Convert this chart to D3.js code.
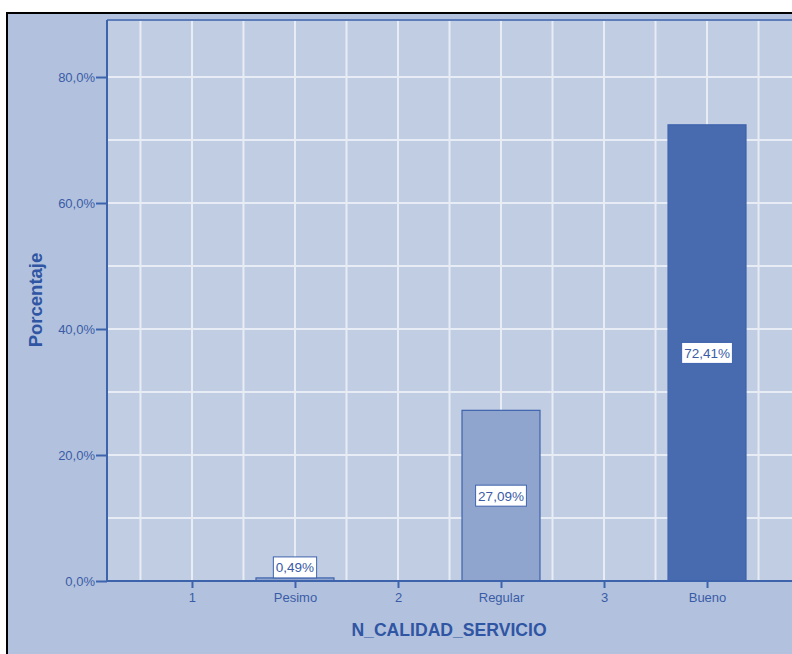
<!DOCTYPE html>
<html>
<head>
<meta charset="utf-8">
<script src="https://cdn.jsdelivr.net/npm/d3@7"></script>
<style>
html,body{margin:0;padding:0;background:#fff;}
svg{display:block;}
</style>
</head>
<body>
<svg id="chart" width="792" height="654"></svg>
<script>
const categories = ["1", "Pesimo", "2", "Regular", "3", "Bueno"];
const values = [0, 0.49, 0, 27.09, 0, 72.41];
const labels = ["", "0,49%", "", "27,09%", "", "72,41%"];
const yTicks = [0, 20, 40, 60, 80];
const yTickLabels = ["0,0%", "20,0%", "40,0%", "60,0%", "80,0%"];
const barColors = [null, "#8fa5cd", null, "#8fa5cd", null, "#486aae"];

(function () {
const svg = d3.select("#chart");
const W = 792, H = 654;
const pLeft = 107, pRight = 792, pTop = 20, pBottom = 581;
const FONT = "Liberation Sans, Arial, sans-serif";

// outer frame
svg.append("rect").attr("x", 7).attr("y", 13).attr("width", W).attr("height", H)
  .attr("fill", "#b2c2de").attr("stroke", "#000").attr("stroke-width", 2);

const x = d3.scaleLinear().domain([-0.825, 5.825]).range([pLeft, pRight]);
const y = d3.scaleLinear().domain([0, 89.05]).range([pBottom, pTop]);

// plot area
svg.append("rect").attr("x", pLeft).attr("y", pTop).attr("width", pRight - pLeft).attr("height", pBottom - pTop)
  .attr("fill", "#c1cde3");

// grid
const vgrid = d3.range(-0.5, 6, 0.5);
svg.append("g").selectAll("line").data(vgrid).join("line")
  .attr("x1", d => x(d)).attr("x2", d => x(d))
  .attr("y1", pTop).attr("y2", pBottom)
  .attr("stroke", "#e8edf5").attr("stroke-width", 2);
const hgrid = d3.range(10, 89, 10);
svg.append("g").selectAll("line").data(hgrid).join("line")
  .attr("x1", pLeft).attr("x2", pRight)
  .attr("y1", d => y(d)).attr("y2", d => y(d))
  .attr("stroke", "#e8edf5").attr("stroke-width", 2);

// top border
svg.append("line").attr("x1", pLeft).attr("x2", pRight).attr("y1", pTop).attr("y2", pTop)
  .attr("stroke", "#5d7dba").attr("stroke-width", 2);

// bars
const step = x(1) - x(0);
const bw = step * 0.757;
const data = categories.map((c, i) => ({c, i, v: values[i], label: labels[i], color: barColors[i]}))
  .filter(d => d.v > 0);
svg.append("g").selectAll("rect").data(data).join("rect")
  .attr("x", d => x(d.i) - bw / 2).attr("width", bw)
  .attr("y", d => y(d.v)).attr("height", d => pBottom - y(d.v))
  .attr("fill", d => d.color).attr("stroke", "#3e63ad").attr("stroke-width", 1.2);

// axes
const xAxis = d3.axisBottom(x).tickValues(d3.range(categories.length))
  .tickFormat(i => categories[i]).tickSize(7).tickPadding(5);
const gx = svg.append("g").attr("transform", `translate(0,${pBottom})`).call(xAxis);
gx.select(".domain").remove();
gx.append("line").attr("x1", pLeft).attr("x2", pRight).attr("y1", 0).attr("y2", 0)
  .attr("stroke", "#3e63ad").attr("stroke-width", 2);
gx.selectAll(".tick line").attr("stroke", "#3e63ad").attr("stroke-width", 2);
gx.selectAll(".tick text").attr("fill", "#3a5ca6")
  .style("font-family", FONT).style("font-size", "13px");

const yAxis = d3.axisLeft(y).tickValues(yTicks).tickFormat((d, i) => yTickLabels[i])
  .tickSize(11).tickPadding(1);
const gy = svg.append("g").attr("transform", `translate(${pLeft},0)`).call(yAxis);
gy.select(".domain").remove();
gy.append("line").attr("x1", 0).attr("x2", 0).attr("y1", pTop).attr("y2", pBottom)
  .attr("stroke", "#3e63ad").attr("stroke-width", 2);
gy.selectAll(".tick line").attr("stroke", "#3e63ad").attr("stroke-width", 2);
gy.selectAll(".tick text").attr("fill", "#3a5ca6")
  .style("font-family", FONT).style("font-size", "13px");

// value labels
const lab = svg.append("g").selectAll("g").data(data).join("g")
  .attr("transform", d => {
    const cy = d.v < 3 ? y(d.v) - 10.5 : y(d.v / 2);
    return `translate(${x(d.i)},${cy})`;
  });
lab.append("text").text(d => d.label)
  .attr("text-anchor", "middle").attr("dy", "0.36em")
  .attr("fill", "#3a5ca6")
  .style("font-family", FONT).style("font-size", "13.5px")
  .each(function() {
    const b = this.getBBox();
    d3.select(this.parentNode).insert("rect", "text")
      .attr("x", b.x - 2.5).attr("y", -10.5).attr("width", b.width + 5).attr("height", 21)
      .attr("fill", "#fff").attr("stroke", "#3e63ad").attr("stroke-width", 1);
  });

// axis titles
svg.append("text").text("N_CALIDAD_SERVICIO")
  .attr("x", 449).attr("y", 636).attr("text-anchor", "middle")
  .attr("fill", "#2f55a3").style("font-weight", "bold")
  .style("font-family", FONT).style("font-size", "17.6px");
svg.append("text").text("Porcentaje")
  .attr("transform", "translate(41.5,300) rotate(-90)").attr("text-anchor", "middle")
  .attr("fill", "#2f55a3").style("font-weight", "bold")
  .style("font-family", FONT).style("font-size", "18.5px");
})();
</script>
</body>
</html>
